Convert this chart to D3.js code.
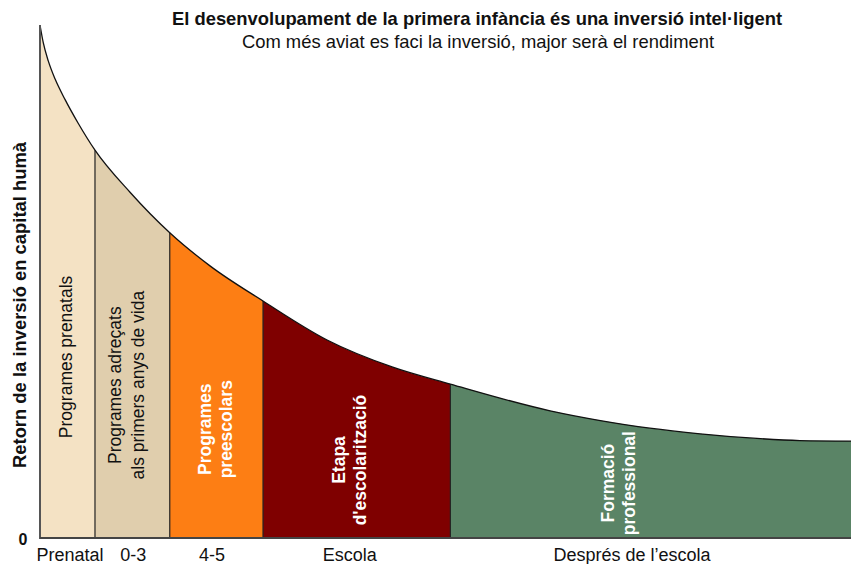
<!DOCTYPE html>
<html>
<head>
<meta charset="utf-8">
<script src="https://cdn.jsdelivr.net/npm/d3@7"></script>
<style>
  body { margin: 0; background: #fff; }
  text { font-family: "Liberation Sans", Arial, sans-serif; }
</style>
</head>
<body>
<div id="chart"></div>
<script>
// return curve, x in % of life span, y in % of max return
var curveX = [0, 0.41, 1.02, 1.85, 3.08, 4.69, 6.78, 11.1, 16.0, 21.0, 27.5, 35.4, 43.5, 50.6, 62.9, 69.1, 75.2, 81.4, 87.5, 93.7, 100];
var curveY = [100, 96.5, 93.0, 89.5, 85.5, 80.9, 75.6, 67.4, 59.5, 53.0, 46.2, 38.6, 33.3, 30.0, 24.8, 22.9, 21.4, 20.3, 19.5, 19.0, 18.9];

// stages
var stageStart = [0, 6.78, 16.0, 27.5, 50.6];
var stageEnd = [6.78, 16.0, 27.5, 50.6, 100];
var stageColors = ['#f4e2c4', '#e0cead', '#fd7e14', '#7f0000', '#5a8466'];
var stageNames = [
    ['Programes prenatals'],
    ['Programes adreçats', 'als primers anys de vida'],
    ['Programes', 'preescolars'],
    ['Etapa', "d'escolarització"],
    ['Formació', 'professional']
];
var stageBold = [false, false, true, true, true];
var stageTextColor = ['#111', '#111', '#fff', '#fff', '#fff'];
var stageLabelX = [3.2, 10.7, 21.6, 38.2, 71.3];
var stageLabelY = [35.3, 29.8, 21.2, 15.2, 10.7];

// axis ticks
var tickLabels = ['Prenatal', '0-3', '4-5', 'Escola', 'Després de l\u2019escola'];
var tickX = [3.7, 11.5, 21.2, 38.2, 73.0];

var title = 'El desenvolupament de la primera infància és una inversió intel·ligent';
var subtitle = 'Com més aviat es faci la inversió, major serà el rendiment';
var yTitle = 'Retorn de la inversió en capital humà';

var W = 851, H = 564;
var margin = { top: 25, right: 0, bottom: 26, left: 40 };
var width = W - margin.left - margin.right,
    height = H - margin.top - margin.bottom;

var x = d3.scaleLinear().domain([0, 100]).range([0, width]);
var y = d3.scaleLinear().domain([0, 100]).range([height, 0]);

var svg = d3.select('#chart')
    .append('svg')
    .attr('width', W)
    .attr('height', H);

var g = svg.append('g')
    .attr('transform', 'translate(' + margin.left + ',' + margin.top + ')');

var pts = curveX.map(function(d, i) { return [d, curveY[i]]; });

var area = d3.area()
    .x(function(d) { return x(d[0]); })
    .y0(y(0))
    .y1(function(d) { return y(d[1]); })
    .curve(d3.curveMonotoneX);

var line = d3.line()
    .x(function(d) { return x(d[0]); })
    .y(function(d) { return y(d[1]); })
    .curve(d3.curveMonotoneX);

// clip per stage
var defs = svg.append('defs');
stageStart.forEach(function(s, i) {
    defs.append('clipPath')
        .attr('id', 'stage' + i)
        .append('rect')
        .attr('x', x(s))
        .attr('y', -5)
        .attr('width', x(stageEnd[i]) - x(s))
        .attr('height', height + 10);
});

stageStart.forEach(function(s, i) {
    g.append('path')
        .datum(pts)
        .attr('d', area)
        .attr('fill', stageColors[i])
        .attr('clip-path', 'url(#stage' + i + ')');
});

// dividers between stages
stageStart.slice(1).forEach(function(s) {
    var v = curveY[curveX.indexOf(s)];
    g.append('line')
        .attr('x1', x(s)).attr('x2', x(s))
        .attr('y1', y(0)).attr('y2', y(v))
        .attr('stroke', '#222')
        .attr('stroke-width', 1.2);
});

// curve
g.append('path')
    .datum(pts)
    .attr('d', line)
    .attr('fill', 'none')
    .attr('stroke', '#111')
    .attr('stroke-width', 1.3);

// axes lines
g.append('line')
    .attr('x1', x(0)).attr('x2', x(0))
    .attr('y1', y(0) + 1).attr('y2', y(100))
    .attr('stroke', '#555')
    .attr('stroke-width', 2);

g.append('line')
    .attr('x1', x(0)).attr('x2', x(100))
    .attr('y1', y(0)).attr('y2', y(0))
    .attr('stroke', '#444')
    .attr('stroke-width', 2);

// stage labels (rotated)
stageNames.forEach(function(lines, i) {
    var t = g.append('text')
        .attr('transform', 'translate(' + x(stageLabelX[i]) + ',' + y(stageLabelY[i]) + ') rotate(-90)')
        .attr('text-anchor', 'middle')
        .attr('font-size', 17.5)
        .attr('font-weight', stageBold[i] ? 'bold' : 'normal')
        .attr('fill', stageTextColor[i]);
    var lh = stageBold[i] ? 21 : 23;
    lines.forEach(function(l, j) {
        t.append('tspan')
            .attr('x', 0)
            .attr('y', (j - (lines.length - 1) / 2) * lh + 6)
            .text(l);
    });
});

// x tick labels
tickLabels.forEach(function(l, i) {
    g.append('text')
        .attr('x', x(tickX[i]))
        .attr('y', y(0) + 23)
        .attr('text-anchor', 'middle')
        .attr('font-size', 18)
        .attr('fill', '#111')
        .text(l);
});

// zero label
g.append('text')
    .attr('x', -17)
    .attr('y', y(0) + 7)
    .attr('text-anchor', 'middle')
    .attr('font-size', 16)
    .attr('font-weight', 'bold')
    .attr('fill', '#111')
    .text('0');

// y title
svg.append('text')
    .attr('transform', 'translate(26,305) rotate(-90)')
    .attr('text-anchor', 'middle')
    .attr('font-size', 18.4)
    .attr('font-weight', 'bold')
    .attr('fill', '#111')
    .text(yTitle);

// titles
svg.append('text')
    .attr('x', 477)
    .attr('y', 25)
    .attr('text-anchor', 'middle')
    .attr('font-size', 18.4)
    .attr('font-weight', 'bold')
    .attr('fill', '#111')
    .text(title);

svg.append('text')
    .attr('x', 478)
    .attr('y', 48)
    .attr('text-anchor', 'middle')
    .attr('font-size', 18.4)
    .attr('fill', '#111')
    .text(subtitle);
</script>
</body>
</html>
